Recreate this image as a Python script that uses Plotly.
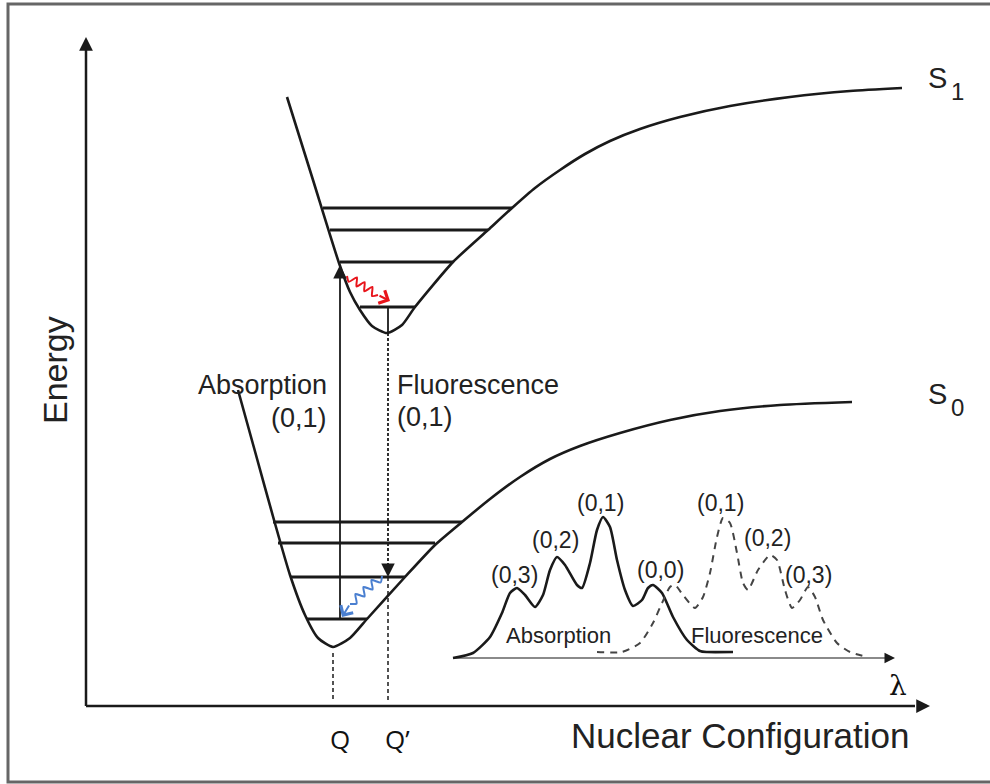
import plotly.graph_objects as go

# Potential energy curves (nuclear coordinate -> energy)
s1_q = [287, 313, 339, 350, 360, 372, 387, 402, 415, 453, 488, 512, 535, 560, 585, 610, 640, 680, 730, 790, 850, 902]
s1_e = [687, 604, 521, 492, 474, 458, 451, 459, 477, 522, 554, 576, 596, 614, 630, 643, 655, 667, 678, 687, 693, 696]
s0_q = [238, 256, 274, 290, 305, 318, 333, 350, 367, 405, 435, 462, 490, 520, 550, 580, 620, 670, 720, 780, 852]
s0_e = [394, 329, 264, 209, 169, 146, 137, 146, 165, 207, 239, 262, 285, 307, 325, 338, 351, 364, 373, 379, 382]

# Vibrational levels
s1_level_e = [576, 554, 522, 477]
s1_level_left = [323, 330, 340, 360]
s1_level_right = [512, 488, 453, 415]
s0_level_e = [262, 241, 207, 165]
s0_level_left = [273, 278, 290, 307]
s0_level_right = [462, 435, 405, 367]

# Transition positions
q_abs = 340        # absorption arrow
q_min = 333        # Q (ground state minimum)
q_fluo = 388       # Q' (excited state minimum)
abs_top = 519
fluo_bottom = 207
s1_min_e = 451

# Relaxation wiggles
red_q = [347, 348.8, 356.9, 356.5, 364.6, 364.3, 372.4, 372, 378]
red_e = [508, 502.2, 506.6, 497.5, 501.9, 492.7, 497.1, 488, 489]
blue_q = [382, 380.6, 371.4, 372.6, 363.4, 364.6, 355.4, 356.6, 350]
blue_e = [208, 201.5, 204, 194.5, 197, 187.5, 190, 180.5, 180]

# Spectra inset: position along lambda axis and intensity
abs_x = [453, 473, 490, 502, 510, 517, 525, 535, 543, 550, 557, 565, 577, 582, 590, 597, 603,
         610, 617, 625, 633, 642, 648, 653, 662, 673, 687, 700, 707, 733]
abs_i = [0, 5, 21, 45, 65, 70, 63, 51, 63, 88, 101, 93, 73, 70, 95, 128, 141,
         131, 98, 68, 52, 58, 70, 73, 65, 41, 18, 7, 6, 6]
flu_x = [597, 622, 640, 653, 662, 670, 675, 683, 695, 703, 710, 717, 723, 730, 737, 743, 748,
         758, 770, 777, 785, 792, 800, 808, 815, 823, 837, 850, 867]
flu_i = [6, 6, 15, 35, 55, 71, 73, 63, 50, 61, 85, 121, 140, 135, 105, 75, 68,
         88, 103, 98, 68, 50, 58, 71, 61, 38, 15, 6, 1]
abs_peak_labels = ["(0,3)", "(0,2)", "(0,1)", "(0,0)"]
abs_peak_x = [514, 555, 600, 660]
abs_peak_i = [83, 118, 155, 88]
flu_peak_labels = ["(0,1)", "(0,2)", "(0,3)"]
flu_peak_x = [720, 767, 808]
flu_peak_i = [155, 120, 83]

base = 126          # spectrum baseline
axis_y = 78
axis_x = 86

FONT = "Liberation Sans, Arial, sans-serif"
INK = "#1a1a1a"

fig = go.Figure()


def line(x, y, color=INK, width=2.6, dash="solid", shape="linear"):
    fig.add_trace(go.Scatter(x=x, y=y, mode="lines", hoverinfo="skip",
                             line=dict(color=color, width=width, dash=dash, shape=shape, smoothing=0.6)))


def arrow(x, y, ax, ay, color=INK, width=2, size=1.2, head=2):
    fig.add_annotation(x=x, y=y, ax=ax, ay=ay, xref="x", yref="y", axref="x", ayref="y",
                       text="", showarrow=True, arrowhead=head, arrowsize=size,
                       arrowwidth=width, arrowcolor=color)


def label(x, y, text, size, anchor="center", color="#222", angle=0, family=FONT):
    fig.add_annotation(x=x, y=y, xref="x", yref="y", text=text, showarrow=False,
                       xanchor=anchor, yanchor="middle", textangle=angle,
                       font=dict(family=family, size=size, color=color))


# axes of the diagram
line([axis_x, axis_x], [axis_y, 740], width=2.5)
arrow(axis_x, 747, axis_x, 735, width=2.5, size=1.1)
line([axis_x, 915], [axis_y, axis_y], width=2.5)
arrow(930, axis_y, 918, axis_y, width=2.5, size=1.1)

# potential curves
line(s1_q, s1_e, shape="spline")
line(s0_q, s0_e, shape="spline")

# vibrational levels
for lv, lo, hi in [(s1_level_e, s1_level_left, s1_level_right),
                   (s0_level_e, s0_level_left, s0_level_right)]:
    xs, ys = [], []
    for e, a, b in zip(lv, lo, hi):
        xs += [a, b, None]
        ys += [e, e, None]
    line(xs, ys, width=2.8)

# absorption
line([q_abs, q_abs], [s0_level_e[-1], abs_top - 10], width=1.8)
arrow(q_abs, abs_top, q_abs, abs_top - 12, width=1.8, size=1.5)

# fluorescence
line([q_fluo, q_fluo], [s1_level_e[-1], s1_min_e], width=1.8)
line([q_fluo, q_fluo], [s1_min_e, fluo_bottom + 12], width=1.8, dash="3px,2px")
arrow(q_fluo, fluo_bottom, q_fluo, fluo_bottom + 12, width=1.8, size=1.5)
line([q_fluo, q_fluo], [fluo_bottom, axis_y + 6], width=1.5, dash="4px,3px")
line([q_min, q_min], [s0_e[6] - 6, axis_y + 6], width=1.5, dash="4px,3px")

# relaxation wiggles
line(red_q, red_e, color="#e8141b", width=2, shape="spline")
arrow(390, 483, red_q[-1], red_e[-1], color="#e8141b", width=2, size=1.4, head=4)
line(blue_q, blue_e, color="#4a7fd0", width=2, shape="spline")
arrow(342, 167, blue_q[-1], blue_e[-1], color="#4a7fd0", width=2, size=1.4, head=4)

# spectra inset
line([abs_x[0], 885], [base, base], color="#8a8a8a", width=2)
arrow(895, base, 885, base, width=1.5, size=1.4)
line(abs_x, [base + v for v in abs_i], width=2.6, shape="spline")
line(flu_x, [base + v for v in flu_i], color="#444", width=2, dash="7px,6px", shape="spline")
for t, x, i in zip(abs_peak_labels, abs_peak_x, abs_peak_i):
    label(x, base + i, t, 23)
for t, x, i in zip(flu_peak_labels, flu_peak_x, flu_peak_i):
    label(x, base + i, t, 23)
label(558, 149, "Absorption", 22)
label(757, 149, "Fluorescence", 22)
label(898, 99, "λ", 28, family="DejaVu Serif, serif", color="#111")

# text labels
label(329, 399, "Absorption", 27, anchor="right")
label(329, 366, "(0,1)", 27, anchor="right")
label(395, 399, "Fluorescence", 27, anchor="left")
label(395, 367, "(0,1)", 27, anchor="left")
label(937, 706, "S", 29)
label(957, 693, "1", 24)
label(937, 390, "S", 29)
label(957, 377, "0", 24)
label(55, 414, "Energy", 34, angle=-90)
label(912, 49, "Nuclear Configuration", 35, anchor="right")
label(340, 45, "Q", 26, family="Open Sans, sans-serif", color="#111")
label(397, 45, "Q’", 26, family="Open Sans, sans-serif", color="#111")

# frame
fig.add_shape(type="rect", xref="x", yref="y", x0=8, x1=1000, y0=2, y1=780,
              line=dict(color="#666", width=3))

fig.update_layout(width=990, height=784, margin=dict(l=0, r=0, t=0, b=0),
                  plot_bgcolor="white", paper_bgcolor="white", showlegend=False,
                  xaxis=dict(range=[0, 990], visible=False, fixedrange=True),
                  yaxis=dict(range=[0, 784], visible=False, fixedrange=True))

# drop the default body margin so the figure fills the window
fig.write_html("out.html", config={"displayModeBar": False},
               post_script="document.body.style.margin='0';")
